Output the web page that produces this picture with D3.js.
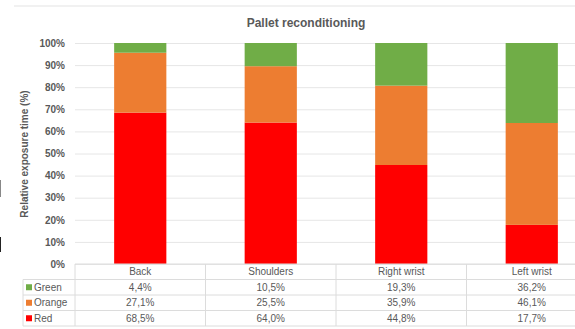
<!DOCTYPE html>
<html><head><meta charset="utf-8">
<script src="https://cdn.jsdelivr.net/npm/d3@7"></script>
<style>body{margin:0;background:#fff}svg{display:block}</style>
</head><body>
<svg id="c" width="575" height="329"></svg>
<script>
const categories = ["Back", "Shoulders", "Right wrist", "Left wrist"];
const seriesNames = ["Green", "Orange", "Red"];
const green = [4.4, 10.5, 19.3, 36.2];
const orange = [27.1, 25.5, 35.9, 46.1];
const red = [68.5, 64.0, 44.8, 17.7];
const colors = ["#70AD47", "#ED7D31", "#FF0000"];
const yTicks = [0, 10, 20, 30, 40, 50, 60, 70, 80, 90, 100];
const title = "Pallet reconditioning";
const yTitle = "Relative exposure time (%)";

const svg = d3.select("#c");
const font = "'Liberation Sans', Arial, sans-serif";
const textCol = "#595959";
const gridCol = "#e6e6e6";

const left = 75, catW = 130.5;
const x = d3.scaleBand().domain(categories).range([left, left + catW * 4]).paddingInner(0.6).paddingOuter(0.3);
const y = d3.scaleLinear().domain([0, 100]).range([264, 43]);

// top frame line
svg.append("line").attr("x1", 14).attr("x2", 575).attr("y1", 6).attr("y2", 6).attr("stroke", "#e3e3e3").attr("stroke-width", 1.2);
// left edge artifacts
svg.append("line").attr("x1", 0.5).attr("x2", 0.5).attr("y1", 180).attr("y2", 197).attr("stroke", "#888");
svg.append("line").attr("x1", 0.5).attr("x2", 0.5).attr("y1", 237).attr("y2", 252).attr("stroke", "#222");

svg.append("text").attr("x", 306).attr("y", 27).attr("text-anchor", "middle")
  .attr("font-family", font).attr("font-weight", "bold").attr("font-size", 12).attr("fill", textCol).text(title);

// grid
const yAxis = d3.axisLeft(y).tickValues(yTicks).tickFormat(d => d + "%").tickSize(-(575 - left)).tickPadding(10);
const ga = svg.append("g").attr("transform", `translate(${left},0)`).call(yAxis);
ga.select(".domain").remove();
ga.selectAll(".tick line").attr("stroke", gridCol).attr("stroke-width", 1);
ga.selectAll(".tick text").attr("font-family", font).attr("font-weight", "bold").attr("font-size", 10).attr("fill", textCol);

svg.append("text").attr("transform", "translate(28,154) rotate(-90)").attr("text-anchor", "middle")
  .attr("font-family", font).attr("font-weight", "bold").attr("font-size", 10).attr("fill", textCol).text(yTitle);

// stacked bars
const table = categories.map((c, i) => ({cat: c, Green: green[i], Orange: orange[i], Red: red[i]}));
const stack = d3.stack().keys(["Red", "Orange", "Green"])(table);
const colorOf = {Green: colors[0], Orange: colors[1], Red: colors[2]};
svg.append("g").selectAll("g").data(stack).join("g").attr("fill", d => colorOf[d.key])
  .selectAll("rect").data(d => d).join("rect")
  .attr("x", d => x(d.data.cat)).attr("width", x.bandwidth())
  .attr("y", d => y(d[1])).attr("height", d => y(d[0]) - y(d[1]));

// data table
const rowY = [264, 279.5, 295, 310.5, 326];
const tl = svg.append("g").attr("stroke", "#dcdcdc").attr("stroke-width", 1);
tl.append("line").attr("x1", left).attr("x2", 575).attr("y1", rowY[0]).attr("y2", rowY[0]);
for (let r = 1; r < rowY.length; r++) {
  tl.append("line").attr("x1", 23).attr("x2", 575).attr("y1", rowY[r]).attr("y2", rowY[r]);
}
tl.append("line").attr("x1", 23).attr("x2", 23).attr("y1", rowY[1]).attr("y2", rowY[4]);
for (let k = 0; k < 4; k++) {
  const xx = left + catW * k;
  tl.append("line").attr("x1", xx).attr("x2", xx).attr("y1", rowY[0]).attr("y2", rowY[4]);
}
const cx = c => x(c) + x.bandwidth() / 2;
svg.append("g").selectAll("text").data(categories).join("text")
  .attr("x", d => cx(d)).attr("y", (rowY[0] + rowY[1]) / 2 + 3.5).attr("text-anchor", "middle")
  .attr("font-family", font).attr("font-size", 10).attr("fill", textCol).text(d => d);

const rows = [green, orange, red];
rows.forEach((vals, r) => {
  const yc = (rowY[r + 1] + rowY[r + 2]) / 2;
  svg.append("rect").attr("x", 26).attr("y", yc - 3).attr("width", 6).attr("height", 6).attr("fill", colors[r]);
  svg.append("text").attr("x", 34).attr("y", yc + 3.5).attr("font-family", font).attr("font-size", 10)
    .attr("fill", textCol).text(seriesNames[r]);
  svg.append("g").selectAll("text").data(vals).join("text")
    .attr("x", (d, i) => cx(categories[i])).attr("y", yc + 3.5).attr("text-anchor", "middle")
    .attr("font-family", font).attr("font-size", 10).attr("fill", textCol)
    .text(d => d.toFixed(1).replace(".", ",") + "%");
});
</script>
</body></html>
